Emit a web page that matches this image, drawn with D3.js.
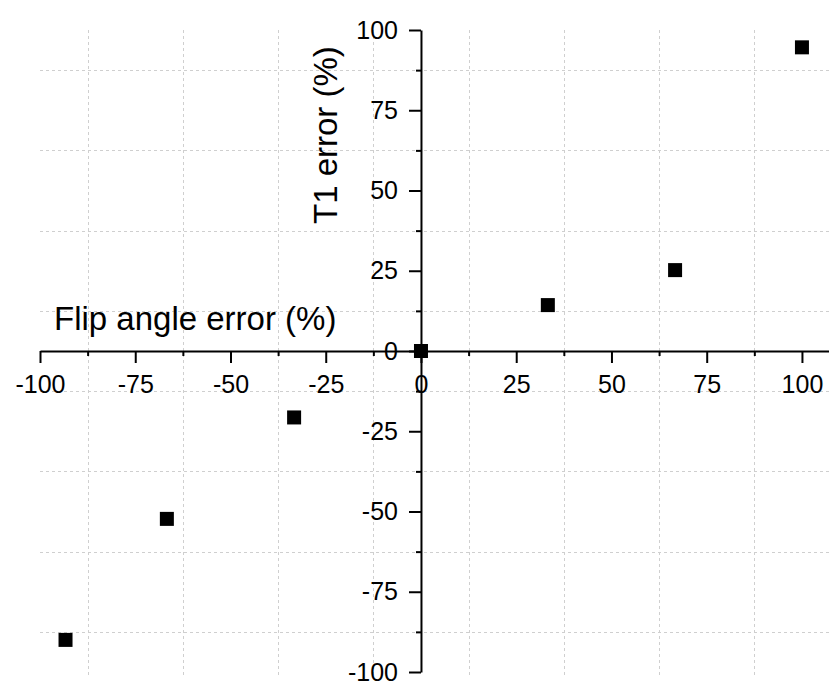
<!DOCTYPE html>
<html>
<head>
<meta charset="utf-8">
<script src="https://cdn.jsdelivr.net/npm/d3@7"></script>
<style>
  html, body { margin: 0; padding: 0; background: #fff; }
  svg { display: block; }
  text { font-family: "Liberation Sans", Arial, sans-serif; fill: #000; }
</style>
</head>
<body>
<div id="chart"></div>
<script>
// Flip angle error vs. resulting T1 error
const flipAngleError = [-93.3, -66.7, -33.3, 0, 33.3, 66.7, 100];
const t1Error        = [-90.0, -52.3, -20.7, 0, 14.3, 25.2, 94.6];

const majorTicks = [-100, -75, -50, -25, 0, 25, 50, 75, 100];
const minorTicks = [-87.5, -62.5, -37.5, -12.5, 12.5, 37.5, 62.5, 87.5];

const xTitle = "Flip angle error (%)";
const yTitle = "T1 error (%)";

const width = 829, height = 682;

const svg = d3.select("#chart").append("svg")
  .attr("width", width)
  .attr("height", height);

// x axis runs a little past 100 to the right edge
const x = d3.scaleLinear().domain([-100, 107.1]).range([40, 829]);
const y = d3.scaleLinear().domain([-100, 100]).range([672, 30]);

// plain hyphen for negative labels
const fmt = d => String(d);

// dotted grid on the minor tick positions
const grid = svg.append("g")
  .attr("stroke", "#cfcfcf")
  .attr("stroke-width", 1)
  .attr("stroke-dasharray", "3,3");

grid.selectAll("line.v").data(minorTicks).join("line")
  .attr("class", "v")
  .attr("x1", d => Math.round(x(d)) + 0.5).attr("x2", d => Math.round(x(d)) + 0.5)
  .attr("y1", y(100)).attr("y2", y(-100) + 3);

grid.selectAll("line.h").data(minorTicks).join("line")
  .attr("class", "h")
  .attr("y1", d => Math.round(y(d)) + 0.5).attr("y2", d => Math.round(y(d)) + 0.5)
  .attr("x1", x(-100)).attr("x2", x.range()[1]);

const fontSize = 25;

// horizontal axis through y = 0
const xAxisG = svg.append("g").attr("transform", `translate(0,${y(0)})`);
xAxisG.call(d3.axisBottom(x).tickValues(majorTicks).tickSize(12).tickSizeOuter(0).tickPadding(12)
  .tickFormat(fmt));
const xMinorG = svg.append("g").attr("transform", `translate(0,${y(0)})`);
xMinorG.call(d3.axisBottom(x).tickValues(minorTicks).tickSize(5).tickFormat(""));
xMinorG.select(".domain").remove();

// vertical axis through x = 0
const yAxisG = svg.append("g").attr("transform", `translate(${x(0)},0)`);
yAxisG.call(d3.axisLeft(y).tickValues(majorTicks).tickSize(12).tickSizeOuter(0).tickPadding(11)
  .tickFormat(fmt));
const yMinorG = svg.append("g").attr("transform", `translate(${x(0)},0)`);
yMinorG.call(d3.axisLeft(y).tickValues(minorTicks).tickSize(5).tickFormat(""));
yMinorG.select(".domain").remove();

[xAxisG, xMinorG, yAxisG, yMinorG].forEach(g => {
  g.selectAll(".domain").attr("stroke", "#000").attr("stroke-width", 2);
  g.selectAll(".tick line").attr("stroke", "#000").attr("stroke-width", 2);
  g.selectAll(".tick text")
    .attr("font-family", '"Liberation Sans", Arial, sans-serif')
    .attr("font-size", fontSize)
    .attr("fill", "#000");
});

// axis titles
svg.append("text")
  .attr("x", 54).attr("y", 330)
  .attr("font-size", 33)
  .text(xTitle);

svg.append("text")
  .attr("transform", "translate(337,224) rotate(-90)")
  .attr("font-size", 33)
  .text(yTitle);

// square markers
const size = 14;
svg.append("g").selectAll("rect")
  .data(flipAngleError.map((v, i) => ({ fx: v, t1: t1Error[i] })))
  .join("rect")
  .attr("x", d => x(d.fx) - size / 2)
  .attr("y", d => y(d.t1) - size / 2)
  .attr("width", size)
  .attr("height", size)
  .attr("fill", "#000");
</script>
</body>
</html>
